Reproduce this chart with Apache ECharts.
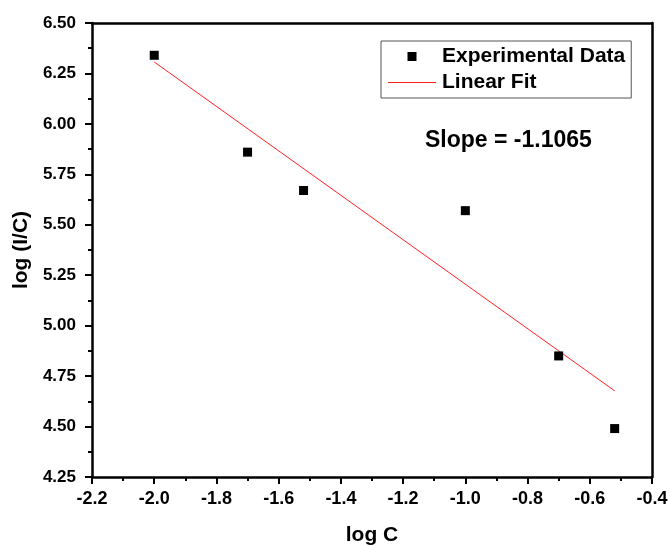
<!DOCTYPE html>
<html>
<head>
<meta charset="utf-8">
<script src="https://cdn.jsdelivr.net/npm/echarts@6/dist/echarts.min.js"></script>
<style>html,body{margin:0;padding:0;background:#fff}#c{width:670px;height:545px}</style>
</head>
<body>
<div id="c"></div>
<script>
// Data
var logC = [-2.0, -1.7, -1.52, -1.0, -0.7, -0.52];
var logIC = [6.34, 5.86, 5.67, 5.57, 4.85, 4.49];
var fitX = [-2.0, -0.52];
var fitY = [6.307, 4.677];
var slopeText = 'Slope = -1.1065';
var xName = 'log C';
var yName = 'log (I/C)';
var seriesNames = ['Experimental Data', 'Linear Fit'];

var FONT = '"Liberation Sans", Arial, sans-serif';
var chart = echarts.init(document.getElementById('c'), null, {renderer: 'canvas'});

var scatterData = logC.map(function (x, i) { return [x, logIC[i]]; });
var fitData = fitX.map(function (x, i) { return [x, fitY[i]]; });

var axisLineStyle = {color: '#000', width: 2.5};
var tickStyle = {color: '#000', width: 2};

chart.setOption({
  animation: false,
  backgroundColor: '#fff',
  grid: {left: 92, right: 18, top: 23, bottom: 68, containLabel: false, outerBoundsMode: 'none'},
  xAxis: [{
    type: 'value', min: -2.2, max: -0.4, interval: 0.2,
    name: xName, nameLocation: 'middle', nameGap: 48,
    nameTextStyle: {fontFamily: FONT, fontWeight: 'bold', fontSize: 21, color: '#000'},
    axisLine: {show: true, onZero: false, lineStyle: axisLineStyle},
    axisTick: {show: true, length: 7, lineStyle: tickStyle},
    minorTick: {show: true, splitNumber: 2, length: 4, lineStyle: tickStyle},
    axisLabel: {margin: 13, fontFamily: FONT, fontWeight: 'bold', fontSize: 18, color: '#000',
      formatter: function (v) { return v.toFixed(1); }},
    splitLine: {show: false}
  }, {
    type: 'value', position: 'top', min: -2.2, max: -0.4, interval: 0.2,
    axisLine: {show: true, onZero: false, lineStyle: axisLineStyle},
    axisTick: {show: false}, axisLabel: {show: false}, splitLine: {show: false}
  }],
  yAxis: [{
    type: 'value', min: 4.25, max: 6.5, interval: 0.25,
    name: yName, nameLocation: 'middle', nameGap: 57, nameRotate: 90,
    nameTextStyle: {fontFamily: FONT, fontWeight: 'bold', fontSize: 21, color: '#000'},
    axisLine: {show: true, onZero: false, lineStyle: axisLineStyle},
    axisTick: {show: true, length: 7, lineStyle: tickStyle},
    minorTick: {show: true, splitNumber: 2, length: 4, lineStyle: tickStyle},
    axisLabel: {margin: 16, fontFamily: FONT, fontWeight: 'bold', fontSize: 17, color: '#000',
      formatter: function (v) { return v.toFixed(2); }},
    splitLine: {show: false}
  }, {
    type: 'value', position: 'right', min: 4.25, max: 6.5, interval: 0.25,
    axisLine: {show: true, onZero: false, lineStyle: axisLineStyle},
    axisTick: {show: false}, axisLabel: {show: false}, splitLine: {show: false}
  }],
  legend: {
    left: 381, top: 41, orient: 'vertical',
    padding: [5, 6, 5, 7],
    itemWidth: 48, itemHeight: 9, itemGap: 5,
    borderColor: '#555', borderWidth: 1, borderRadius: 0,
    textStyle: {fontFamily: FONT, fontWeight: 'bold', fontSize: 21, color: '#000', padding: [0, 0, 0, 1]},
    data: [
      {name: seriesNames[0], icon: 'path://M0,0h10v10h-10z'},
      {name: seriesNames[1], icon: 'path://M0,0h48v1h-48z'}
    ]
  },
  graphic: [{
    type: 'text', left: 425, top: 129,
    style: {text: slopeText, fontFamily: FONT, fontWeight: 'bold', fontSize: 23, fill: '#000'}
  }],
  series: [{
    name: seriesNames[0], type: 'scatter', data: scatterData,
    symbol: 'rect', symbolSize: 9,
    itemStyle: {color: '#000', opacity: 1}, z: 3
  }, {
    name: seriesNames[1], type: 'line', data: fitData,
    symbol: 'none', showSymbol: false,
    lineStyle: {color: '#ff2020', width: 1},
    itemStyle: {color: '#ff2020'}, z: 2
  }]
});
</script>
</body>
</html>
